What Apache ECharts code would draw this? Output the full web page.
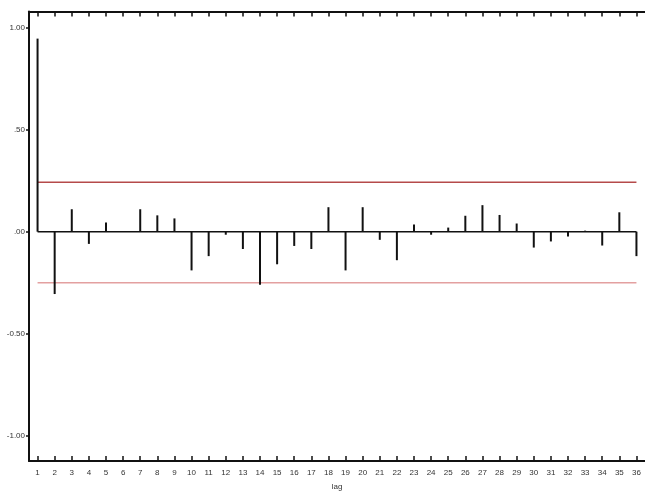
<!DOCTYPE html>
<html><head><meta charset="utf-8">
<script src="https://cdn.jsdelivr.net/npm/echarts@6/dist/echarts.min.js"></script>
<style>html,body{margin:0;padding:0;background:#fff}#c{width:645px;height:496px}</style>
</head><body><div id="c"></div>
<script>
var lags = [];
for (var i = 1; i <= 36; i++) lags.push(String(i));
var acf = [0.947, -0.306, 0.11, -0.06, 0.045, 0.0, 0.11, 0.08, 0.065, -0.19,
           -0.12, -0.015, -0.085, -0.26, -0.16, -0.07, -0.085, 0.12, -0.19, 0.12,
           -0.04, -0.14, 0.035, -0.015, 0.02, 0.078, 0.13, 0.082, 0.04, -0.078,
           -0.048, -0.024, 0.005, -0.068, 0.095, -0.12];
var upperBound = 0.243;
var lowerBound = -0.25;
var yTickValues = [1, 0.5, 0, -0.5, -1];
var yTickLabels = ['1.00', '.50', '.00', '-0.50', '-1.00'];
var xTitle = 'lag';

var font = 'Liberation Sans';
var chart = echarts.init(document.getElementById('c'));
chart.setOption({
  animation: false,
  grid: {left: 29, right: 0, top: 11.5, bottom: 28},
  xAxis: [{
    type: 'category', data: lags, position: 'bottom',
    name: xTitle, nameLocation: 'middle', nameGap: 22,
    nameTextStyle: {fontFamily: font, fontSize: 8, color: '#333'},
    axisLine: {onZero: false, lineStyle: {color: '#111', width: 2}},
    axisTick: {show: true, inside: true, alignWithLabel: true, interval: 0, length: 5, lineStyle: {color: '#111', width: 1.5}},
    axisLabel: {fontFamily: font, fontSize: 8, color: '#333', margin: 8, interval: 0},
    splitLine: {show: false}
  }, {
    type: 'category', data: lags, position: 'top',
    axisLine: {onZero: false, lineStyle: {color: '#111', width: 2}},
    axisTick: {show: true, inside: true, alignWithLabel: true, interval: 0, length: 5, lineStyle: {color: '#111', width: 1.5}},
    axisLabel: {show: false, interval: 0},
    splitLine: {show: false}
  }],
  yAxis: {
    type: 'value', min: -1.125, max: 1.08,
    axisLine: {show: true, onZero: false, lineStyle: {color: '#111', width: 2}},
    axisTick: {show: true, length: 3, customValues: yTickValues, lineStyle: {color: '#111', width: 1.5}},
    axisLabel: {
      customValues: yTickValues, fontFamily: font, fontSize: 8, color: '#333', margin: 4,
      formatter: function (v) {
        for (var k = 0; k < yTickValues.length; k++) if (Math.abs(yTickValues[k] - v) < 1e-9) return yTickLabels[k];
        return '';
      }
    },
    splitLine: {show: false}
  },
  series: [{
    type: 'bar', data: acf, barWidth: 2, itemStyle: {color: '#111'}, z: 3
  }, {
    type: 'line', data: lags.map(function () { return 0; }), symbol: 'none',
    lineStyle: {color: '#111', width: 1.5}, z: 4
  }, {
    type: 'line', data: lags.map(function () { return upperBound; }), symbol: 'none',
    lineStyle: {color: '#b54a4a', width: 1.5}, z: 2
  }, {
    type: 'line', data: lags.map(function () { return lowerBound; }), symbol: 'none',
    lineStyle: {color: '#e3a0a0', width: 1.5}, z: 2
  }]
});
</script>
</body></html>
